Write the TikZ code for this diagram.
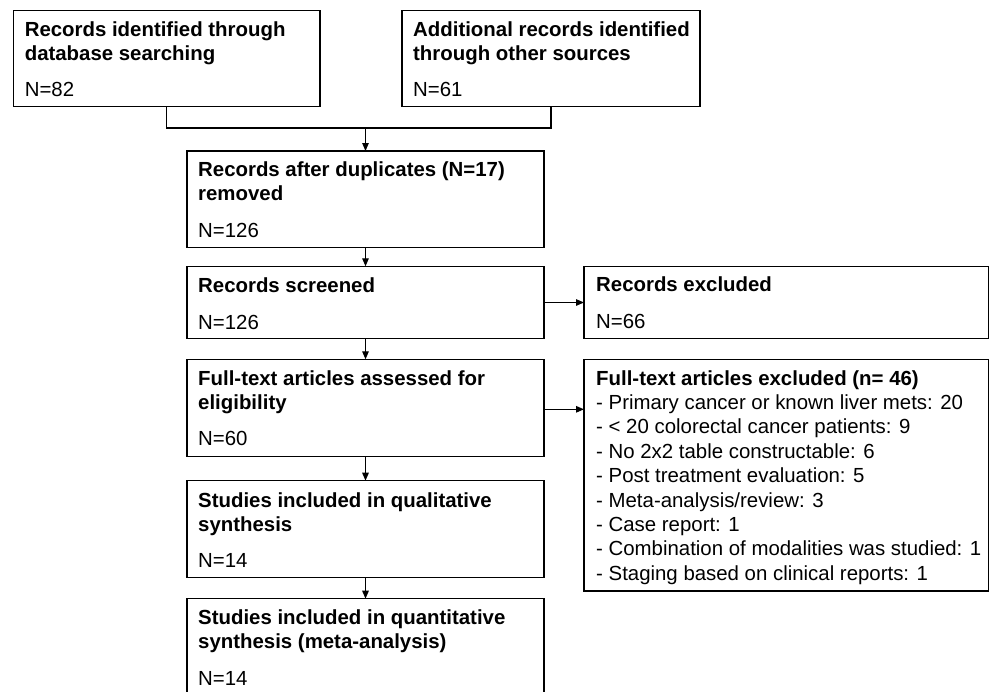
\documentclass[tikz,border=0pt]{standalone}
\usepackage{fontspec}
\setmainfont{Liberation Sans}
\usetikzlibrary{arrows.meta}
\tikzset{
  box/.style={draw=black, line width=1.3pt, rectangle, inner sep=0pt, outer sep=0pt, anchor=north west},
  ttl/.style={anchor=base west, inner sep=0pt, font=\fontsize{20.4pt}{24pt}\selectfont\bfseries},
  txt/.style={anchor=base west, inner sep=0pt, font=\fontsize{20.4pt}{24pt}\selectfont},
  conn/.style={draw=black, line width=1.2pt},
  arr/.style={conn, -{Triangle[length=8pt,width=6.5pt]}}
}
\begin{document}
\begin{tikzpicture}[x=1pt,y=-1pt]
\path[use as bounding box] (0,0) rectangle (990,691);
\clip (0,0) rectangle (990,691);
% boxes
\node[box, minimum width=306.4pt, minimum height=96pt] (A) at (13.6,10.7) {};
\node[box, minimum width=298pt, minimum height=96pt] (B) at (402,10.7) {};
\node[box, minimum width=357pt, minimum height=96.7pt] (C) at (187,151) {};
\node[box, minimum width=357pt, minimum height=72.4pt] (S) at (187,266.3) {};
\node[box, minimum width=357pt, minimum height=97.4pt] (F) at (187,359.3) {};
\node[box, minimum width=357pt, minimum height=97pt] (Q) at (187,480.7) {};
\node[box, minimum width=357pt, minimum height=110pt] (M) at (187,598.7) {};
\node[box, minimum width=404.5pt, minimum height=72.4pt] (RE) at (584,266.3) {};
\node[box, minimum width=404.5pt, minimum height=231.7pt] (FE) at (584,359.3) {};
% texts
\node[ttl] (a1) at (24.6,36.7) {Records identified through};
\node[ttl] (a2) at (24.6,60) {database searching};
\node[txt] (a3) at (24.6,96.7) {N=82};
\node[ttl] (b1) at (413,36.7) {Additional records identified};
\node[ttl] (b2) at (413,60) {through other sources};
\node[txt] (b3) at (413,96.7) {N=61};
\node[ttl] (c1) at (198,176) {Records after duplicates (N=17)};
\node[ttl] (c2) at (198,200.5) {removed};
\node[txt] (c3) at (198,237.3) {N=126};
\node[ttl] (s1) at (198,292.7) {Records screened};
\node[txt] (s2) at (198,329) {N=126};
\node[ttl] (f1) at (198,385.3) {Full-text articles assessed for};
\node[ttl] (f2) at (198,409) {eligibility};
\node[txt] (f3) at (198,445.7) {N=60};
\node[ttl] (q1) at (198,507.3) {Studies included in qualitative};
\node[ttl] (q2) at (198,531) {synthesis};
\node[txt] (q3) at (198,567.3) {N=14};
\node[ttl] (m1) at (198,624.3) {Studies included in quantitative};
\node[ttl] (m2) at (198,648.5) {synthesis (meta-analysis)};
\node[txt] (m3) at (198,685) {N=14};
\node[ttl] (r1) at (596,291.7) {Records excluded};
\node[txt] (r2) at (596,328.3) {N=66};
\node[ttl] (e0) at (596,385) {Full-text articles excluded (n= 46)};
\node[txt] (e1) at (596,409.5) {- Primary cancer or known liver mets: 20};
\node[txt] (e2) at (596,433.9) {- < 20 colorectal cancer patients: 9};
\node[txt] (e3) at (596,458.3) {- No 2x2 table constructable: 6};
\node[txt] (e4) at (596,482.7) {- Post treatment evaluation: 5};
\node[txt] (e5) at (596,507.1) {- Meta-analysis/review: 3};
\node[txt] (e6) at (596,531.5) {- Case report: 1};
\node[txt] (e7) at (596,555.9) {- Combination of modalities was studied: 1};
\node[txt] (e8) at (596,580.3) {- Staging based on clinical reports: 1};
% connectors
\coordinate (j) at (365.5,128);
\draw[conn] (A.south) |- (j) -| (B.south);
\draw[arr] (j) -- (C.north);
\draw[arr] (C.south) -- (S.north);
\draw[arr] (S.south) -- (F.north);
\draw[arr] (F.south) -- (Q.north);
\draw[arr] (Q.south) -- (M.north);
\draw[arr] (S.east) -- (S.east -| RE.west);
\draw[arr] ([yshift=-1.3pt]F.east) -- ([yshift=-1.3pt]F.east -| FE.west);
\end{tikzpicture}
\end{document}
